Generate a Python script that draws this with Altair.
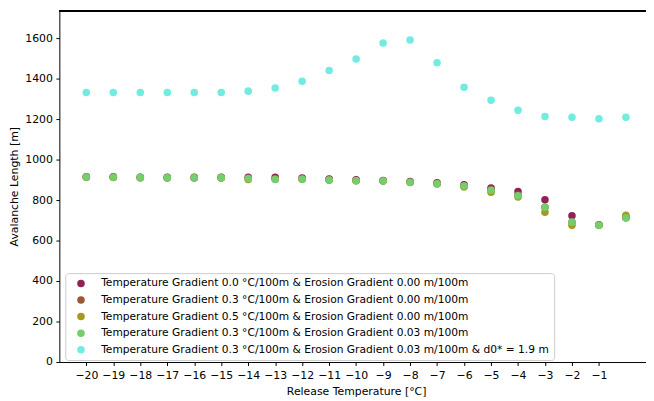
import altair as alt
import pandas as pd

temps = list(range(-20, 1))
x_ticks = list(range(-20, 0))
y_ticks = [0, 200, 400, 600, 800, 1000, 1200, 1400, 1600]

series_names = [
    "Temperature Gradient 0.0 °C/100m & Erosion Gradient 0.00 m/100m",
    "Temperature Gradient 0.3 °C/100m & Erosion Gradient 0.00 m/100m",
    "Temperature Gradient 0.5 °C/100m & Erosion Gradient 0.00 m/100m",
    "Temperature Gradient 0.3 °C/100m & Erosion Gradient 0.03 m/100m",
    "Temperature Gradient 0.3 °C/100m & Erosion Gradient 0.03 m/100m & d0* = 1.9 m",
]
series_colors = ["#8f2357", "#9c5735", "#a39a1e", "#74cd6e", "#72ece0"]

grad_00_ero_000 = [915, 915, 913, 912, 912, 912, 912, 912, 909, 904, 900, 897, 891,
                   886, 876, 860, 842, 802, 723, 678, 716]
grad_03_ero_000 = [914, 913, 911, 910, 910, 910, 908, 906, 905, 901, 897, 895, 889,
                   882, 871, 852, 825, 765, 690, 677, 713]
grad_05_ero_000 = [913, 912, 909, 909, 909, 909, 902, 903, 903, 898, 895, 894, 887,
                   879, 865, 838, 815, 740, 675, 675, 725]
grad_03_ero_003 = [914, 913, 912, 910, 910, 910, 907, 902, 903, 899, 895, 894, 888,
                   881, 869, 849, 821, 764, 691, 676, 711]
grad_03_ero_003_d0 = [1331, 1331, 1331, 1331, 1331, 1331, 1338, 1354, 1387, 1440, 1497,
                      1576, 1591, 1478, 1357, 1293, 1244, 1213, 1209, 1202, 1209]

all_series = [grad_00_ero_000, grad_03_ero_000, grad_05_ero_000, grad_03_ero_003,
              grad_03_ero_003_d0]

rows = []
for order, (name, vals) in enumerate(zip(series_names, all_series)):
    for t, v in zip(temps, vals):
        rows.append({"temp": t, "length": v, "series": name, "ord": order})
df = pd.DataFrame(rows)

FONT = "DejaVu Sans"
FS = 11
W, H = 594, 356

points = alt.Chart(df).mark_circle(size=58, opacity=1).encode(
    x=alt.X("temp:Q",
            scale=alt.Scale(domain=[-21, 0.744], nice=False, zero=False),
            axis=alt.Axis(values=x_ticks, title="Release Temperature [°C]",
                          titleX=300.5, labelPadding=4, titlePadding=5)),
    y=alt.Y("length:Q",
            scale=alt.Scale(domain=[0, 1736.6], nice=False),
            axis=alt.Axis(values=y_ticks, format="d", title="Avalanche Length [m]",
                          titlePadding=5)),
    color=alt.Color("series:N",
                    scale=alt.Scale(domain=series_names, range=series_colors),
                    legend=alt.Legend(title=None, orient="none", legendX=6, legendY=266)),
    order=alt.Order("ord:Q"),
)

top_spine = alt.Chart(df).mark_rule(color="black", strokeWidth=1).encode(
    x=alt.value(0), x2=alt.value(W), y=alt.value(0.5)
)

chart = alt.layer(points, top_spine).properties(
    width=W, height=H,
    autosize=alt.AutoSizeParams(type="none"),
    padding={"left": 52, "top": 0, "right": 0, "bottom": 37},
).configure_view(stroke=None).configure_axis(
    labelFont=FONT, titleFont=FONT, labelFontSize=FS, titleFontSize=FS,
    labelColor="black", titleColor="black", titleFontWeight="normal",
    domainColor="black", tickColor="black", domainWidth=1, tickWidth=1,
    tickSize=3.5, labelPadding=3.5, grid=False,
).configure_legend(
    labelFont=FONT, labelFontSize=10.8, labelColor="black", labelLimit=0,
    symbolType="circle", symbolSize=58, symbolOpacity=1, symbolStrokeWidth=0,
    fillColor="rgba(255,255,255,0.8)", strokeColor="#cccccc", cornerRadius=3,
    padding=5, rowPadding=4.8, symbolOffset=5.5, labelOffset=15,
)

chart.save("out.html", embed_options={"renderer": "svg", "actions": False})
